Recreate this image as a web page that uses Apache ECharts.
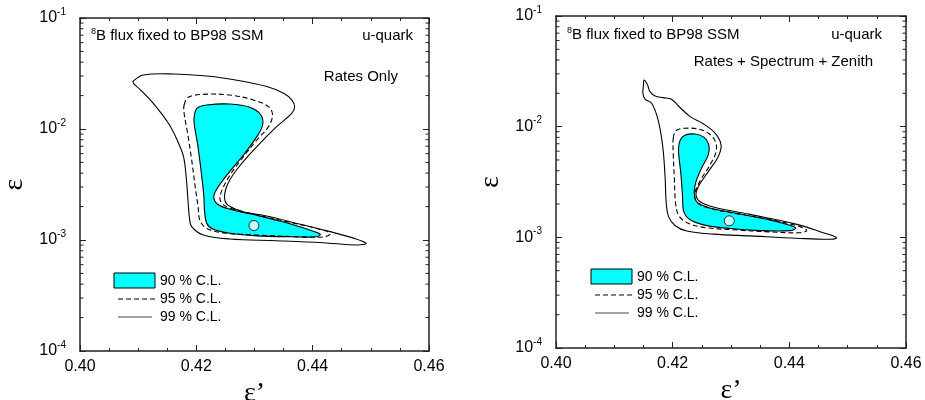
<!DOCTYPE html>
<html><head><meta charset="utf-8">
<script src="https://cdn.jsdelivr.net/npm/echarts@6/dist/echarts.min.js"></script>
<style>html,body{margin:0;padding:0;background:#fff}#c{width:925px;height:400px}</style>
</head><body><div id="c"></div>
<script>
// ---------- data ----------
const xRange = [0.40, 0.46];
const yRange = [0.0001, 0.1];
const logMinorTicks = [0.0002,0.0003,0.0004,0.0005,0.0006,0.0007,0.0008,0.0009,
  0.002,0.003,0.004,0.005,0.006,0.007,0.008,0.009,
  0.02,0.03,0.04,0.05,0.06,0.07,0.08,0.09];
const clLabels = ['90 % C.L.', '95 % C.L.', '99 % C.L.'];
const panelTitles = ['Rates Only', 'Rates + Spectrum + Zenith'];

// Left panel: Rates Only
const rates99X = [0.4092,0.4109,0.4161,0.4218,0.4275,0.4321,0.4350,0.4364,0.4369,0.4364,0.4338,0.4304,0.4269,0.4252,0.4249,0.4258,0.4281,0.4327,0.4373,0.4430,0.4470,0.4492,0.4476,0.4418,0.4338,0.4258,0.4212,0.4192,0.4188,0.4186,0.4183,0.4178,0.4167,0.4152,0.4126,0.4103,0.4092];
const rates99Y = [0.0272,0.0307,0.0313,0.0300,0.0272,0.0241,0.0210,0.0183,0.0159,0.0138,0.0105,0.00693,0.00427,0.00302,0.00229,0.00200,0.00180,0.00162,0.00141,0.00119,0.00104,0.000933,0.000902,0.000946,0.000986,0.00102,0.00111,0.00132,0.00162,0.00214,0.00347,0.00563,0.00796,0.01125,0.0170,0.0228,0.0258];
const rates95X = [0.4179,0.4186,0.4212,0.4258,0.4298,0.4324,0.4331,0.4324,0.4304,0.4281,0.4258,0.4242,0.4242,0.4258,0.4304,0.4361,0.4407,0.4430,0.4421,0.4373,0.4304,0.4246,0.4218,0.4206,0.4203,0.4198,0.4192,0.4185,0.4179];
const rates95Y = [0.01645,0.01929,0.02052,0.02024,0.01825,0.01589,0.01337,0.01050,0.00796,0.00563,0.00385,0.00263,0.00221,0.00193,0.00168,0.00144,0.00127,0.00115,0.00107,0.00107,0.00111,0.00116,0.00127,0.00151,0.00200,0.00302,0.00526,0.00914,0.01384];
const rates90X = [0.4196,0.4201,0.4218,0.4258,0.4292,0.4311,0.4314,0.4304,0.4281,0.4255,0.4236,0.4230,0.4236,0.4258,0.4304,0.4355,0.4395,0.4413,0.4407,0.4361,0.4304,0.4258,0.4229,0.4218,0.4214,0.4213,0.4208,0.4202,0.4197];
const rates90Y = [0.01248,0.01535,0.01645,0.01680,0.01567,0.01337,0.01086,0.00853,0.00583,0.00399,0.00292,0.00246,0.00211,0.00189,0.00167,0.00143,0.00123,0.00113,0.00107,0.00107,0.00109,0.00115,0.00125,0.00141,0.00186,0.00246,0.00427,0.00743,0.01050];
const ratesBest = [0.4299, 0.00135];

// Right panel: Rates + Spectrum + Zenith
const full99X = [0.4151,0.4157,0.4161,0.4170,0.4184,0.4198,0.4210,0.4230,0.4253,0.4273,0.4283,0.4278,0.4261,0.4244,0.4240,0.4247,0.4273,0.4330,0.4413,0.4458,0.4481,0.4473,0.4413,0.4333,0.4270,0.4224,0.4204,0.4193,0.4189,0.4187,0.4183,0.4175,0.4164,0.4153,0.4149,0.4150];
const full99Y = [0.02641,0.02380,0.02072,0.01893,0.01830,0.01767,0.01538,0.01232,0.01058,0.00871,0.00683,0.00536,0.00392,0.00287,0.00242,0.00210,0.00186,0.00162,0.00131,0.00110,0.000995,0.000961,0.000981,0.00103,0.00107,0.00114,0.00128,0.00154,0.00203,0.00354,0.00660,0.01150,0.01626,0.01767,0.02001,0.02380];
const full95X = [0.4201,0.4206,0.4221,0.4244,0.4263,0.4274,0.4274,0.4264,0.4248,0.4238,0.4242,0.4267,0.4315,0.4378,0.4418,0.4430,0.4418,0.4367,0.4304,0.4253,0.4224,0.4210,0.4205,0.4203,0.4201];
const full95Y = [0.00785,0.00921,0.00967,0.00953,0.00859,0.00717,0.00582,0.00451,0.00330,0.00250,0.00206,0.00181,0.00162,0.00141,0.00125,0.00115,0.00110,0.00112,0.00117,0.00123,0.00136,0.00159,0.00203,0.00330,0.00575];
const full90X = [0.4210,0.4213,0.4221,0.4238,0.4254,0.4262,0.4261,0.4251,0.4241,0.4237,0.4241,0.4261,0.4304,0.4361,0.4398,0.4411,0.4401,0.4350,0.4298,0.4255,0.4230,0.4219,0.4217,0.4214];
const full90Y = [0.00616,0.00758,0.00836,0.00859,0.00801,0.00683,0.00555,0.00436,0.00330,0.00259,0.00210,0.00186,0.00167,0.00146,0.00130,0.00121,0.00115,0.00115,0.00120,0.00129,0.00144,0.00171,0.00233,0.00379];
const fullBest = [0.4297, 0.00141];

// ---------- chart ----------
const SANS = '"Liberation Sans", Arial, Helvetica, sans-serif';
const SERIF = '"Liberation Serif", "Times New Roman", serif';
const AX = '#222';
const chart = echarts.init(document.getElementById('c'), null, {renderer:'canvas'});

const grids = [
  {left:80, right:496, top:18, bottom:49, containLabel:false, outerBoundsMode:'none'},
  {left:556, right:19, top:16, bottom:52, containLabel:false, outerBoundsMode:'none'}
];

function xAxes(gi) {
  const base = {
    gridIndex: gi, type:'value', min:xRange[0], max:xRange[1], interval:0.02,
    axisLine:{show:true, lineStyle:{color:AX, width:1.5}},
    axisTick:{show:true, inside:true, length:6, lineStyle:{color:AX, width:1}},
    minorTick:{show:true, splitNumber:4, length:3, lineStyle:{color:AX, width:1}},
    splitLine:{show:false}, minorSplitLine:{show:false}
  };
  return [
    Object.assign({}, base, {position:'bottom',
      axisLabel:{formatter:v=>v.toFixed(2), fontSize:16, color:'#000', margin:8, fontFamily:SANS},
      name:'\u03b5\u2019', nameLocation:'middle', nameGap:22,
      nameTextStyle:{fontFamily:SERIF, fontSize:28, color:'#000'}}),
    Object.assign({}, base, {position:'top', axisLabel:{show:false}})
  ];
}
function yAxes(gi) {
  const base = {
    gridIndex: gi, type:'log', logBase:10, min:yRange[0], max:yRange[1],
    axisLine:{show:true, lineStyle:{color:AX, width:1.5}},
    axisTick:{show:true, inside:true, length:6, lineStyle:{color:AX, width:1}},
    minorTick:{show:false}, splitLine:{show:false}
  };
  return [
    Object.assign({}, base, {position:'left',
      axisLabel:{margin:14, color:'#000', fontFamily:SANS,
        formatter: v => '{b|10}{s|' + Math.round(Math.log10(v)) + '}',
        rich:{b:{fontSize:16, lineHeight:22, fontFamily:SANS, color:'#000'},
              s:{fontSize:10, lineHeight:6, verticalAlign:'top', fontFamily:SANS, color:'#000'}}},
      name:'\u03b5', nameLocation:'middle', nameGap:51,
      nameTextStyle:{fontFamily:SERIF, fontSize:28, color:'#000'}}),
    Object.assign({}, base, {position:'right', axisLabel:{show:false}})
  ];
}

function contour(name, xs, ys, gi, style, z) {
  return {
    type:'custom', name: name, coordinateSystem:'cartesian2d',
    xAxisIndex: gi*2, yAxisIndex: gi*2, z: z, clip:false, silent:true,
    data: xs.map((x,i)=>[x, ys[i]]),
    renderItem: function(params, api) {
      if (params.dataIndex !== 0) return null;
      const pts = xs.map((x,i)=>api.coord([x, ys[i]]));
      return {type:'polygon', shape:{points:pts, smooth:0.35}, style: style};
    }
  };
}
function minorTicks(gi) {
  return {
    type:'custom', coordinateSystem:'cartesian2d', xAxisIndex: gi*2, yAxisIndex: gi*2,
    z: 6, silent:true, clip:false,
    data: logMinorTicks.map(v=>[xRange[0], v]),
    renderItem: function(params, api) {
      const v = api.value(1);
      const l = api.coord([xRange[0], v]);
      const r = api.coord([xRange[1], v]);
      const st = {stroke:AX, lineWidth:1};
      return {type:'group', children:[
        {type:'line', shape:{x1:l[0], y1:l[1], x2:l[0]+3.5, y2:l[1]}, style:st},
        {type:'line', shape:{x1:r[0], y1:r[1], x2:r[0]-3.5, y2:r[1]}, style:st}
      ]};
    }
  };
}
function best(pt, gi) {
  return {type:'scatter', xAxisIndex: gi*2, yAxisIndex: gi*2, z:8, silent:true,
    symbol:'circle', symbolSize:10, data:[pt],
    itemStyle:{color:'#fff', borderColor:'#000', borderWidth:1}};
}

const fillStyle = {fill:'#00ffff', stroke:'#000', lineWidth:1.1};
const dashStyle = {fill:null, stroke:'#000', lineWidth:1.1, lineDash:[5,3]};
const solidStyle = {fill:null, stroke:'#000', lineWidth:1.1};

const series = [
  contour(clLabels[0], rates90X, rates90Y, 0, fillStyle, 2),
  contour(clLabels[1], rates95X, rates95Y, 0, dashStyle, 3),
  contour(clLabels[2], rates99X, rates99Y, 0, solidStyle, 3),
  best(ratesBest, 0), minorTicks(0),
  contour(clLabels[0], full90X, full90Y, 1, fillStyle, 2),
  contour(clLabels[1], full95X, full95Y, 1, dashStyle, 3),
  contour(clLabels[2], full99X, full99Y, 1, solidStyle, 3),
  best(fullBest, 1), minorTicks(1)
];

function headerTexts(x8, xq, yq, tx, ty, title) {
  return [
    {type:'text', x:x8, y:yq, silent:true, style:{
      text:'{s|8}{n|B flux fixed to BP98 SSM}', textVerticalAlign:'middle', fill:'#000',
      rich:{n:{fontSize:15, lineHeight:18, fontFamily:SANS, fill:'#000', color:'#000'},
            s:{fontSize:9, lineHeight:6, verticalAlign:'top', fontFamily:SANS, fill:'#000', color:'#000'}}}},
    {type:'text', x:xq, y:yq, silent:true, style:{text:'u-quark', fontSize:15, fontFamily:SANS, fill:'#000', textAlign:'right', textVerticalAlign:'middle'}},
    {type:'text', x:tx, y:ty, silent:true, style:{text:title, fontSize:15, fontFamily:SANS, fill:'#000', textAlign:'right', textVerticalAlign:'middle'}}
  ];
}
function legendGroup(rx, ry) {
  const txt = (t, yy) => ({type:'text', x: rx+46, y: yy,
    style:{text:t, fill:'#000', fontSize:14, fontFamily:SANS, textVerticalAlign:'middle'}});
  return {type:'group', silent:true, children:[
    {type:'rect', x:rx, y:ry, shape:{width:41, height:15}, style:{fill:'#00ffff', stroke:'#000', lineWidth:1}},
    txt(clLabels[0], ry+8),
    {type:'line', shape:{x1:rx+4, y1:ry+26, x2:rx+41, y2:ry+26}, style:{stroke:'#000', lineWidth:1, lineDash:[5,3]}},
    txt(clLabels[1], ry+26),
    {type:'line', shape:{x1:rx+4, y1:ry+44, x2:rx+38, y2:ry+44}, style:{stroke:'#444', lineWidth:1}},
    txt(clLabels[2], ry+44)
  ]};
}

chart.setOption({
  animation:false,
  backgroundColor:'#fff',
  grid: grids,
  xAxis: xAxes(0).concat(xAxes(1)),
  yAxis: yAxes(0).concat(yAxes(1)),
  series: series,
  graphic: [legendGroup(114, 273), legendGroup(591, 269)]
    .concat(headerTexts(91, 413, 36, 398, 77, panelTitles[0]),
            headerTexts(567, 882, 35, 873, 62, panelTitles[1]))
});
</script>
</body></html>
